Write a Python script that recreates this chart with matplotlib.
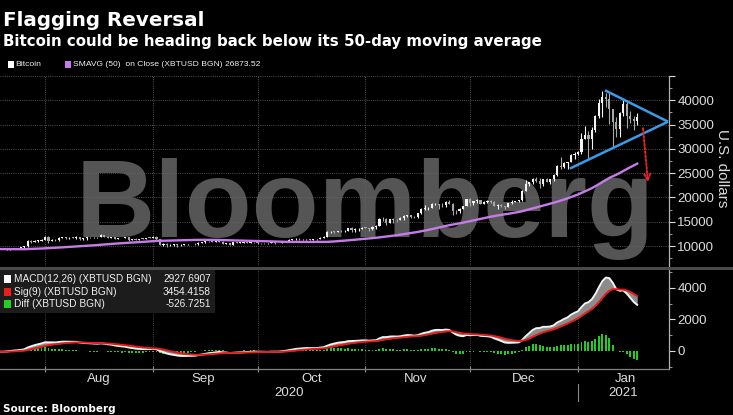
import numpy as np
import pandas as pd
import matplotlib
matplotlib.use("Agg")
import matplotlib.pyplot as plt
import matplotlib.dates as mdates
import matplotlib.transforms as mtransforms
from matplotlib.patches import Rectangle
from matplotlib.lines import Line2D

# ---------------- data (daily XBTUSD) ----------------
# closes before the visible window (used for SMA / MACD warm-up): 2020-05-30 .. 2020-07-18
close_pre = [9700, 9450,
             10200, 9520, 9660, 9800, 9650, 9760, 9670, 9790, 9770, 9870,
             9320, 9480, 9470, 9390, 9430, 9520, 9460, 9380, 9300, 9360,
             9290, 9680, 9630, 9300, 9250, 9160, 9010, 9120, 9190, 9140,
             9230, 9090, 9060, 9130, 9070, 9340, 9250, 9430, 9240, 9290,
             9240, 9300, 9240, 9250, 9190, 9130, 9150, 9170]

# visible window 2020-07-19 .. 2021-01-18
close_jul = [9210, 9160, 9390, 9540, 9610, 9550, 9710, 9940, 11030, 10940, 11100, 11110, 11350]
high_jul = [9230, 9220, 9420, 9550, 9640, 9630, 9730, 10080, 11280, 11200, 11300, 11180, 11450]
low_jul = [9100, 9130, 9160, 9280, 9480, 9480, 9530, 9650, 9900, 10620, 10870, 10850, 10990]

close_aug = [11800, 11070, 11230, 11190, 11740, 11770, 11600, 11750, 11680, 11880,
             11410, 11580, 11780, 11770, 11870, 11910, 12290, 11960, 11750, 11880,
             11520, 11680, 11660, 11770, 11330, 11460, 11330, 11540, 11510, 11710, 11680]
high_aug = [12000, 12030, 11460, 11410, 11790, 11910, 11910, 11800, 11800, 12060,
            11950, 11650, 11790, 11940, 11960, 11930, 12410, 12370, 12030, 11910,
            11880, 11690, 11710, 11800, 11780, 11530, 11580, 11550, 11580, 11720, 11770]
low_aug = [11220, 10650, 11000, 11000, 11110, 11600, 11430, 11530, 11560, 11530,
           11170, 11270, 11280, 11680, 11700, 11690, 11830, 11800, 11600, 11680,
           11500, 11400, 11570, 11600, 11130, 11260, 11150, 11290, 11470, 11500, 11620]

close_sep = [11970, 11410, 10250, 10510, 10170, 10280, 10370, 10130, 10240, 10360,
             10400, 10440, 10330, 10680, 10790, 10960, 10950, 10940, 11090, 10920,
             10420, 10540, 10240, 10740, 10690, 10730, 10770, 10710, 10840, 10780]
high_sep = [12080, 12000, 11460, 10570, 10570, 10340, 10390, 10430, 10330, 10500,
            10420, 10480, 10570, 10790, 10930, 11100, 11040, 11030, 11170, 11120,
            10990, 10570, 10560, 10770, 10760, 10780, 10800, 10930, 10850, 10860]
low_sep = [11650, 11220, 10200, 9980, 9900, 10040, 9920, 9910, 10080, 10200,
           10200, 10350, 10240, 10300, 10630, 10690, 10750, 10820, 10900, 10820,
           10380, 10370, 10160, 10200, 10600, 10650, 10620, 10680, 10640, 10660]

close_oct = [10620, 10570, 10550, 10670, 10790, 10600, 10670, 10920, 11060, 11300,
             11370, 11540, 11430, 11430, 11500, 11320, 11360, 11480, 11740, 11920,
             12820, 12970, 12930, 13110, 13030, 13070, 13640, 13270, 13450, 13560, 13780]
high_oct = [10900, 10670, 10600, 10680, 10800, 10800, 10690, 10950, 11100, 11480,
            11430, 11700, 11560, 11550, 11550, 11540, 11390, 11490, 11800, 12000,
            13180, 13160, 13020, 13150, 13340, 13220, 13770, 13860, 13620, 13630, 14020]
low_oct = [10450, 10400, 10500, 10530, 10630, 10530, 10580, 10560, 10840, 11060,
           11280, 11300, 11350, 11300, 11280, 11230, 11300, 11350, 11420, 11680,
           11900, 12700, 12720, 12900, 12930, 12800, 13050, 12960, 12990, 13150, 13500]

close_nov = [13740, 13550, 14020, 14150, 15590, 15580, 14830, 15480, 15330, 15300,
             15700, 16280, 16320, 16070, 15960, 16730, 17660, 17800, 17820, 18660,
             18690, 18420, 18370, 19110, 18730, 17150, 17140, 17720, 18180, 19630]
high_nov = [13900, 13820, 14070, 14250, 15750, 15950, 15750, 15650, 15850, 15480,
            15950, 16450, 16480, 16320, 16130, 16880, 17850, 18400, 18100, 18800,
            18950, 18700, 18770, 19350, 19480, 18900, 17450, 17860, 18300, 19780]
low_nov = [13620, 13200, 13300, 13550, 14100, 15200, 14400, 14700, 14800, 14950,
           15280, 15450, 15950, 15700, 15870, 15880, 16560, 17340, 17400, 17780,
           18400, 17700, 18000, 18100, 18600, 16300, 16500, 16900, 17550, 18150]

close_dec = [18800, 19200, 19450, 18700, 19150, 19360, 19170, 18320, 18550, 18260,
             18040, 18800, 19140, 19250, 19440, 21380, 22800, 23140, 23870, 23480,
             22750, 23820, 23240, 23740, 24660, 26440, 26250, 27040, 27360, 28840, 29000]
high_dec = [19900, 19300, 19600, 19500, 19200, 19420, 19400, 19300, 18650, 18560,
            18270, 18950, 19400, 19300, 19550, 21500, 23700, 23250, 24100, 24250,
            24100, 23840, 24100, 23780, 24750, 26700, 28300, 27400, 27400, 28900, 29300]
low_dec = [18200, 18400, 18900, 18600, 18600, 18900, 18950, 18200, 17600, 17950,
           17600, 18020, 18750, 19000, 19050, 19300, 21250, 22350, 22800, 23100,
           22000, 22400, 23100, 22700, 23450, 24500, 25950, 26100, 25900, 27200, 28000]

close_jan = [29370, 32130, 32780, 31970, 33990, 36820, 39370, 40670, 40240, 38240,
             35540, 34010, 37390, 39150, 36830, 36180, 35790, 36630]
high_jan = [29600, 33300, 34800, 33600, 34500, 36900, 40200, 41950, 41400, 41400,
            38300, 36600, 37600, 40000, 39700, 37900, 36800, 37300]
low_jan = [28800, 29000, 32000, 28000, 29900, 33500, 36300, 36600, 38700, 35100,
           30400, 32500, 32400, 36700, 34400, 35400, 33900, 34900]

first_date = "2020-05-30"

legend_sma = "SMAVG (50)  on Close (XBTUSD BGN) 26873.52"
macd_legend = [("MACD(12,26) (XBTUSD BGN)", "2927.6907"),
               ("Sig(9) (XBTUSD BGN)", "3454.4158"),
               ("Diff (XBTUSD BGN)", "-526.7251")]
month_labels = ["Aug", "Sep", "Oct", "Nov", "Dec", "Jan"]
month_starts = ["2020-08-01", "2020-09-01", "2020-10-01", "2020-11-01", "2020-12-01", "2021-01-01"]
month_label_pos = ["2020-08-16 12:00", "2020-09-15 12:00", "2020-10-16 12:00",
                   "2020-11-15 12:00", "2020-12-16 12:00", "2021-01-14 12:00"]
price_ticks = [10000, 15000, 20000, 25000, 30000, 35000, 40000, 45000]
macd_ticks = [0, 2000, 4000]

# annotation (drawn pattern)
tri_upper_dates = ["2021-01-08 18:00", "2021-01-26 20:00"]
tri_upper_vals = [42050, 35600]
tri_lower_dates = ["2020-12-29 16:00", "2021-01-26 20:00"]
tri_lower_vals = [25950, 35600]
arrow_dates = ["2021-01-19 16:00", "2021-01-21 02:00"]
arrow_vals = [34250, 23150]

# ---------------- derived series ----------------
vis_close = close_jul + close_aug + close_sep + close_oct + close_nov + close_dec + close_jan
vis_high = np.array(high_jul + high_aug + high_sep + high_oct + high_nov + high_dec + high_jan, float)
vis_low = np.array(low_jul + low_aug + low_sep + low_oct + low_nov + low_dec + low_jan, float)
all_close = pd.Series(close_pre + vis_close, dtype=float)
dates_all = pd.date_range(first_date, periods=len(all_close), freq="D")
n_pre = len(close_pre)

sma = all_close.rolling(50).mean()
ema12 = all_close.ewm(span=12, adjust=False).mean()
ema26 = all_close.ewm(span=26, adjust=False).mean()
macd = ema12 - ema26
sig = macd.ewm(span=9, adjust=False).mean()
diff = macd - sig

c = all_close.values[n_pre:]
o = all_close.values[n_pre - 1:-1]
hi = np.maximum(vis_high, np.maximum(o, c))
lo = np.minimum(vis_low, np.minimum(o, c))
x = mdates.date2num(dates_all[n_pre:])

# ---------------- figure ----------------
W, H = 733, 415
fig = plt.figure(figsize=(W / 100, H / 100), dpi=100, facecolor="black")
SANS = "Liberation Sans"

def fy(py):
    return 1 - py / H

ax1 = fig.add_axes([0, fy(266), 669 / W, (266 - 76) / H])
ax2 = fig.add_axes([0, fy(369), 669 / W, (369 - 269) / H])
for ax in (ax1, ax2):
    ax.set_facecolor("black")
    for s in ax.spines.values():
        s.set_visible(False)
    ax.spines["right"].set_visible(True)
    ax.spines["right"].set_color("#b0b0b0")
    ax.spines["right"].set_linewidth(0.9)
    ax.set_axisbelow(True)

jan1 = mdates.date2num(pd.Timestamp("2021-01-01"))
aug1 = mdates.date2num(pd.Timestamp("2020-08-01"))
ppd = (578 - 45) / (jan1 - aug1)
xl = (aug1 - 45 / ppd, jan1 + (669 - 578) / ppd)
ms = mdates.date2num(pd.to_datetime(month_starts))

# --- price panel ---
ax1.set_xlim(*xl)
ax1.set_ylim(5900, 45000)
ax1.text(76 / W, fy(237), "Bloomberg", transform=fig.transFigure, fontsize=79,
         fontweight="bold", family=SANS, color="#555555", zorder=0.3,
         va="baseline", ha="left")
ax1.set_xticks(ms)
ax1.tick_params(axis="x", bottom=False, labelbottom=False)
ax1.yaxis.tick_right()
ax1.set_yticks(price_ticks)
ax1.set_yticklabels([str(v) if v < 45000 else "" for v in price_ticks])
ax1.set_yticks(np.arange(7500, 45000, 5000), minor=True)
ax1.tick_params(axis="y", which="major", colors="#dddddd", length=4, width=0.8, labelsize=9.5, pad=2)
ax1.tick_params(axis="y", which="minor", colors="#b0b0b0", length=2, width=0.6)
for lab in ax1.get_yticklabels():
    lab.set_family(SANS)
ax1.grid(True, which="major", color="#6a6a6a", linestyle=(0, (1, 1.6)), linewidth=0.6)

up = c >= o
col = np.where(up, "#f4f4f4", "#a8a8a8")
ax1.vlines(x, lo, hi, colors=col, linewidth=0.8, zorder=3)
ax1.bar(x, np.maximum(np.abs(c - o), 90), bottom=np.minimum(o, c), width=0.62,
        color=col, linewidth=0, zorder=4)
ax1.plot(x, sma.values[n_pre:], color="#c57be8", linewidth=1.7, zorder=5)

ax1.plot(mdates.date2num(pd.to_datetime(tri_upper_dates)), tri_upper_vals, color="#3a9be8",
         linewidth=1.8, zorder=6, solid_capstyle="butt", clip_on=False)
ax1.plot(mdates.date2num(pd.to_datetime(tri_lower_dates)), tri_lower_vals, color="#3a9be8",
         linewidth=1.8, zorder=6, solid_capstyle="butt", clip_on=False)
ad = mdates.date2num(pd.to_datetime(arrow_dates))
ax1.annotate("", xy=(ad[1], arrow_vals[1]), xytext=(ad[0], arrow_vals[0]),
             arrowprops=dict(arrowstyle="->", color="#e8242a", linestyle=(0, (1, 1)),
                             linewidth=1.4, mutation_scale=11, shrinkA=0, shrinkB=0),
             zorder=7)

# --- MACD panel ---
ax2.set_xlim(*xl)
ax2.set_ylim(-1143, 5206)
ax2.bar(x, diff.values[n_pre:], width=0.55, color="#22cc22", linewidth=0, zorder=2)
ax2.fill_between(x, macd.values[n_pre:], sig.values[n_pre:], color="#8c8c8c", linewidth=0, zorder=3)
ax2.plot(x, macd.values[n_pre:], color="#f4f4f4", linewidth=1.4, zorder=4)
ax2.plot(x, sig.values[n_pre:], color="#e51c1c", linewidth=1.4, zorder=5)
ax2.spines["bottom"].set_visible(True)
ax2.spines["bottom"].set_color("#808080")
ax2.spines["bottom"].set_linewidth(0.9)
ax2.yaxis.tick_right()
ax2.set_yticks(macd_ticks)
ax2.set_yticks([-1000, 1000, 3000, 5000], minor=True)
ax2.tick_params(axis="y", which="major", colors="#dddddd", length=4, width=0.8, labelsize=9.5, pad=2)
ax2.tick_params(axis="y", which="minor", colors="#b0b0b0", length=2, width=0.6)
for lab in ax2.get_yticklabels():
    lab.set_family(SANS)
ax2.set_xticks(ms)
ax2.set_xticklabels([])
ax2.set_xticks(mdates.date2num(pd.to_datetime(month_label_pos)), minor=True)
ax2.set_xticklabels(month_labels, minor=True)
ax2.tick_params(axis="x", which="major", direction="inout", length=5, width=0.8, color="#909090")
ax2.tick_params(axis="x", which="minor", length=0, pad=3, labelsize=9.5, labelcolor="#dddddd")
for lab in ax2.get_xticklabels(minor=True):
    lab.set_family(SANS)
ax2.grid(True, axis="x", which="major", color="#5a5a5a", linestyle=(0, (1, 1.6)), linewidth=0.6)

blend = mtransforms.blended_transform_factory(ax2.transData, fig.transFigure)
ax2.text((xl[0] + jan1) / 2, fy(393), "2020", transform=blend, ha="center", va="center",
         fontsize=9.5, color="#dddddd", family=SANS, clip_on=False)
ax2.text((jan1 + xl[1]) / 2, fy(393), "2021", transform=blend, ha="center", va="center",
         fontsize=9.5, color="#dddddd", family=SANS, clip_on=False)
fig.add_artist(Line2D([jan1, jan1], [fy(384), fy(401)], transform=blend, color="#888888", linewidth=0.8))

# separator between panels
fig.add_artist(Line2D([0, 1], [fy(267.5), fy(267.5)], transform=fig.transFigure,
                      color="#4a4a4a", linewidth=2.2))

# MACD legend box
fig.patches.append(Rectangle((0, fy(313)), 215 / W, (313 - 270) / H, transform=fig.transFigure,
                             facecolor="#1c1c1c", edgecolor="none", zorder=1))
leg_cols = ["#ffffff", "#ee1c1c", "#22d022"]
for i, ((lab, val), cc) in enumerate(zip(macd_legend, leg_cols)):
    yy = 279 + i * 12.5
    fig.patches.append(Rectangle((4 / W, fy(yy + 4)), 7 / W, 8 / H, transform=fig.transFigure,
                                 facecolor=cc, edgecolor="none", zorder=2))
    fig.text(14 / W, fy(yy), lab, color="#f0f0f0", fontsize=7.3, family=SANS, va="center", zorder=3)
    fig.text(211 / W, fy(yy), val, color="#f0f0f0", fontsize=7.3, family=SANS, va="center",
             ha="right", zorder=3)

# top legend
fig.patches.append(Rectangle((8 / W, fy(68)), 6 / W, 7 / H, transform=fig.transFigure,
                             facecolor="#ffffff", edgecolor="none"))
fig.text(15 / W, fy(64), "Bitcoin", color="#f0f0f0", fontsize=6.1, family=SANS, va="center")
fig.patches.append(Rectangle((65 / W, fy(68)), 6 / W, 7 / H, transform=fig.transFigure,
                             facecolor="#c57be8", edgecolor="none"))
fig.text(73 / W, fy(64), legend_sma, color="#f0f0f0", fontsize=6.1, family=SANS, va="center")

# titles
fig.text(3 / W, fy(26), "Flagging Reversal", color="white", fontsize=14.3,
         fontweight="bold", family="DejaVu Sans", va="baseline")
fig.text(3 / W, fy(46), "Bitcoin could be heading back below its 50-day moving average",
         color="white", fontsize=10.85, fontweight="bold", family="DejaVu Sans", va="baseline")
fig.text(722 / W, fy(168), "U.S. dollars", color="#dddddd", fontsize=11, rotation=270,
         ha="center", va="center", family=SANS)
fig.text(3 / W, fy(409), "Source: Bloomberg", color="white", fontsize=7.5,
         fontweight="bold", family="DejaVu Sans", va="center")

fig.savefig("out.png", dpi=100, facecolor="black")
